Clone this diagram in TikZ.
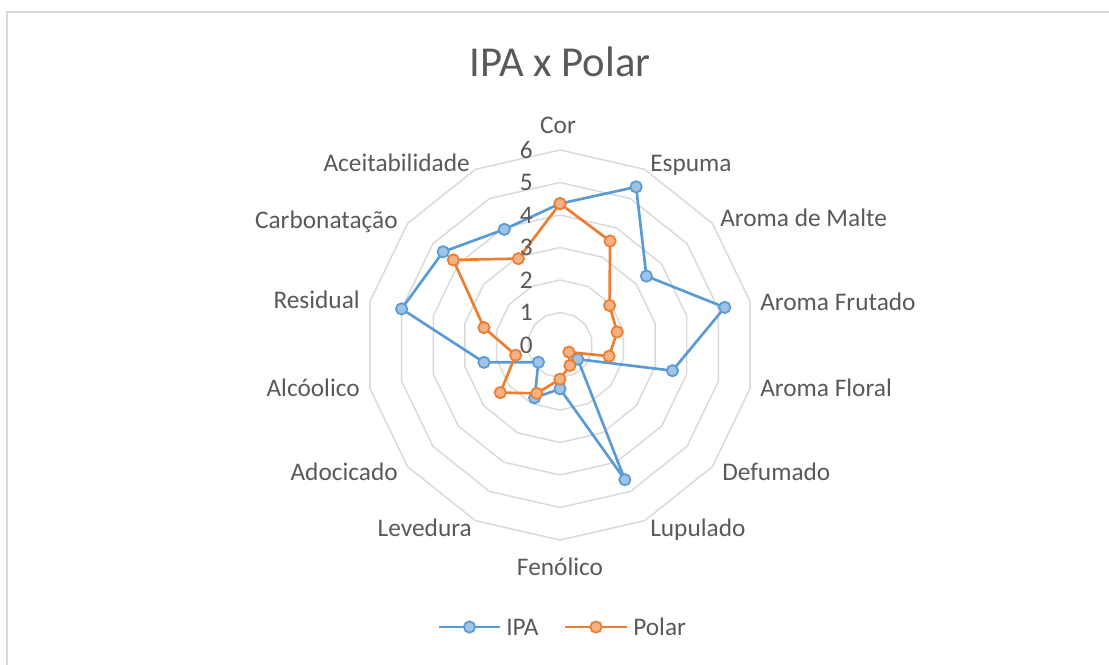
\documentclass[tikz,border=0pt]{standalone}
\usepackage{fontspec}
\setmainfont{Carlito}
\usepackage{xcolor}
\usetikzlibrary{calc}
\usetikzlibrary{positioning}
\definecolor{ipablue}{HTML}{5B9BD5}
\definecolor{ipafill}{HTML}{9DC3E6}
\definecolor{polarorange}{HTML}{ED7D31}
\definecolor{polarfill}{HTML}{F4B183}
\definecolor{gridgray}{HTML}{D9D9D9}
\definecolor{textgray}{HTML}{595959}

\begin{document}
\begin{tikzpicture}[x=0.75pt, y=-0.75pt, font=\fontsize{19}{23}\selectfont, text=textgray]
    \tikzstyle{lbl}=[inner sep=0pt, text=textgray]
    \tikzstyle{ring}=[draw=gridgray, line width=1.1pt]
    \tikzstyle{ipaline}=[draw=ipablue, line width=2pt, line join=round]
    \tikzstyle{polarline}=[draw=polarorange, line width=2pt, line join=round]
    \tikzstyle{ipamark}=[circle, draw=ipablue, fill=ipafill, line width=1.3pt, minimum size=8.5pt, inner sep=0pt]
    \tikzstyle{polarmark}=[circle, draw=polarorange, fill=polarfill, line width=1.3pt, minimum size=8.5pt, inner sep=0pt]

    \useasboundingbox (0,0) rectangle (1109,664);
    \draw[draw=gridgray, line width=1.5pt] (7,12) rectangle (1130,690);

    \node[lbl, anchor=base, font=\fontsize{32}{38}\selectfont] (title) at (560,76) {IPA x Polar};

    % radar grid and series
    \coordinate (ctr) at (560,345);
    \begin{scope}[shift={(ctr)}, x=24.375pt, y=24.375pt]
        \foreach \r in {1,...,6}
            \draw[ring] (90:\r) \foreach \i in {1,...,13} { -- ({90-\i*360/14}:\r) } -- cycle;

        \foreach \v [count=\i from 0] in {4.35,5.4,3.4,5.2,3.55,0.7,4.6,1.35,1.8,0.85,2.4,5.0,4.6,3.95}
            \coordinate (ipa\i) at ({90-\i*360/14}:\v);
        \foreach \v [count=\i from 0] in {4.35,3.55,1.95,1.8,1.55,0.35,0.7,1.05,1.65,2.35,1.4,2.4,4.2,2.95}
            \coordinate (pol\i) at ({90-\i*360/14}:\v);

        \draw[ipaline] (ipa0) \foreach \i in {1,...,13} { -- (ipa\i) } -- cycle;
        \foreach \i in {0,...,13}
            \node[ipamark] (ipam\i) at (ipa\i) {};
        \draw[polarline] (pol0) \foreach \i in {1,...,13} { -- (pol\i) } -- cycle;
        \foreach \i in {0,...,13}
            \node[polarmark] (polm\i) at (pol\i) {};
    \end{scope}

    \foreach \r in {0,...,6}
        \node[lbl, anchor=east] (num\r) at (533,{345-32.5*\r}) {\r};

    % category labels
    \node[lbl, anchor=base] (cor) at (558,133) {Cor};
    \node[lbl, anchor=base west] (espuma) at (650,171) {Espuma};
    \node[lbl, anchor=base west] (malte) at (720,226) {Aroma de Malte};
    \node[lbl, anchor=base west] (frutado) at (760,310) {Aroma Frutado};
    \node[lbl, anchor=base west] (floral) at (760,396) {Aroma Floral};
    \node[lbl, anchor=base west] (defumado) at (722,480) {Defumado};
    \node[lbl, anchor=base west] (lupulado) at (650,536) {Lupulado};
    \node[lbl, anchor=base] (fenolico) at (560,575) {Fenólico};
    \node[lbl, anchor=base east] (levedura) at (472,536) {Levedura};
    \node[lbl, anchor=base east] (adocicado) at (398,480) {Adocicado};
    \node[lbl, anchor=base east] (alcoolico) at (360,396) {Alcóolico};
    \node[lbl, anchor=base east] (residual) at (360,308) {Residual};
    \node[lbl, anchor=base east] (carbo) at (398,228) {Carbonatação};
    \node[lbl, anchor=base east] (aceit) at (470,171) {Aceitabilidade};

    % legend
    \coordinate (ipaA) at (439,627);
    \coordinate (ipaB) at (500,627);
    \draw[ipaline] (ipaA) -- (ipaB);
    \node[ipamark] (ipaleg) at ($(ipaA)!0.5!(ipaB)$) {};
    \node[lbl, right=4.5pt of ipaB] (ipatxt) {IPA};
    \coordinate (polA) at (565,627);
    \coordinate (polB) at (627,627);
    \draw[polarline] (polA) -- (polB);
    \node[polarmark] (polleg) at ($(polA)!0.5!(polB)$) {};
    \node[lbl, right=4.5pt of polB] (poltxt) {Polar};
\end{tikzpicture}
\end{document}
